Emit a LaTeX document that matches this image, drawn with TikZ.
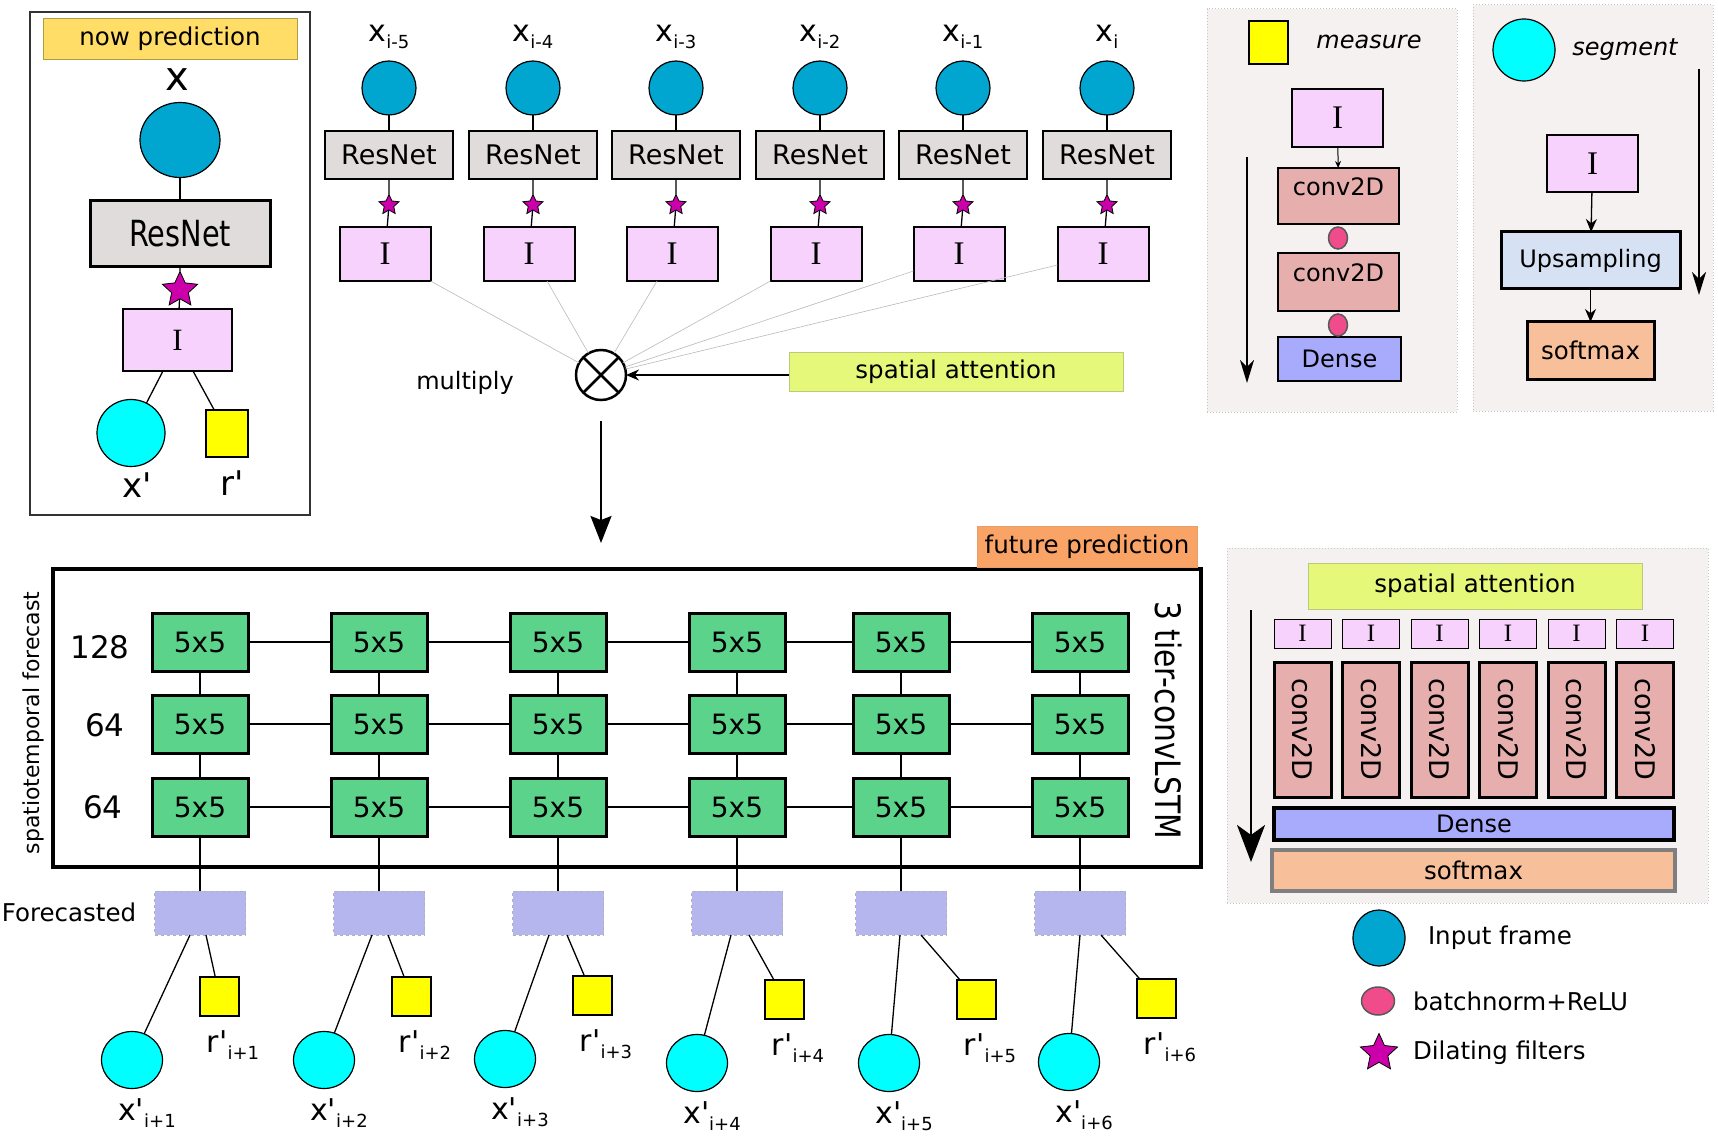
\documentclass[tikz,border=0pt]{standalone}
\usepackage{fontspec}
\setmainfont{DejaVu Sans}[Ligatures=TeXOff]
\newfontfamily\idfont{Liberation Serif}
\usetikzlibrary{shapes.geometric,arrows.meta}

\definecolor{inblue}{RGB}{0,165,208}
\definecolor{segcyan}{RGB}{0,255,255}
\definecolor{measyellow}{RGB}{255,255,0}
\definecolor{starmag}{RGB}{204,0,170}
\definecolor{resgray}{RGB}{224,220,220}
\definecolor{ipink}{RGB}{246,210,252}
\definecolor{nowgold}{RGB}{255,221,102}
\definecolor{attgreen}{RGB}{229,248,122}
\definecolor{convred}{RGB}{230,174,172}
\definecolor{denseblue}{RGB}{168,170,252}
\definecolor{softpeach}{RGB}{248,192,154}
\definecolor{upblue}{RGB}{214,226,243}
\definecolor{futorange}{RGB}{249,163,102}
\definecolor{lstmgreen}{RGB}{92,211,138}
\definecolor{fclav}{RGB}{182,182,238}
\definecolor{panelbg}{RGB}{245,241,240}
\definecolor{bnpink}{RGB}{240,76,140}
\definecolor{softgray}{RGB}{127,127,127}

\newcommand{\fsz}[1]{\fontsize{#1}{#1}\selectfont}
\newcommand{\xsub}[2]{{\fsz{30}#1}\raisebox{-7pt}{\fsz{18}#2}}

\tikzset{
  nosep/.style={inner sep=0pt, outer sep=0pt},
  wire/.style={line width=1.3pt},
  faint/.style={line width=0.6pt, draw=gray!55},
  inframe/.style={ellipse, draw, line width=1.2pt, fill=inblue, minimum width=54pt, minimum height=54pt, nosep},
  segnode/.style={ellipse, draw, line width=1.2pt, fill=segcyan, minimum width=61pt, minimum height=57pt, nosep},
  measnode/.style={rectangle, draw, line width=2pt, fill=measyellow, minimum width=39pt, minimum height=39pt, nosep},
  resbox/.style={rectangle, draw, line width=2.5pt, fill=resgray, minimum width=128pt, minimum height=48pt, font=\fsz{27}, nosep},
  dil/.style={star, star points=5, star point ratio=2.1, draw, line width=0.8pt, fill=starmag, minimum size=21pt, nosep},
  ibox/.style={rectangle, draw, line width=2pt, fill=ipink, minimum width=91pt, minimum height=54pt, font=\idfont\fsz{33}, nosep},
  nowframe/.style={rectangle, draw=black!80, line width=1.5pt, minimum width=280pt, minimum height=503pt, nosep},
  nowtag/.style={rectangle, draw=nowgold!70!black, line width=0.8pt, fill=nowgold, minimum width=254pt, minimum height=41pt, font=\fsz{24.5}, nosep},
  mulnode/.style={circle, draw, line width=2.5pt, fill=white, minimum size=50pt, nosep},
  attbox/.style={rectangle, draw=attgreen!60!gray, line width=0.8pt, fill=attgreen, font=\fsz{24.5}, nosep},
  lstmframe/.style={rectangle, draw, line width=4pt, minimum width=1148pt, minimum height=298pt, nosep},
  futtag/.style={rectangle, draw=futorange!85!gray, line width=0.8pt, fill=futorange, minimum width=220pt, minimum height=41pt, font=\fsz{24.5}, nosep},
  lstmcell/.style={rectangle, draw, line width=3pt, fill=lstmgreen, minimum width=96pt, minimum height=58pt, font=\fsz{28}, nosep},
  fcbox/.style={rectangle, draw=gray!60, dashed, line width=1pt, fill=fclav, minimum width=91pt, minimum height=44pt, nosep},
  panel/.style={rectangle, draw=gray!45, dotted, line width=1pt, fill=panelbg, nosep},
  convbox/.style={rectangle, draw, line width=2.5pt, fill=convred, font=\fsz{24}, nosep},
  convup/.style={text height=17pt, text depth=17pt},
  densebox/.style={rectangle, draw, line width=2.5pt, fill=denseblue, font=\fsz{24}, nosep},
  softbox/.style={rectangle, draw, line width=3pt, fill=softpeach, font=\fsz{24.5}, nosep},
  upbox/.style={rectangle, draw, line width=3pt, fill=upblue, font=\fsz{24}, nosep},
  bnnode/.style={ellipse, draw=black!65, line width=1.5pt, fill=bnpink, minimum width=19pt, minimum height=22pt, nosep},
  txt/.style={font=\fsz{24.5}, nosep},
  bigarrow/.style={line width=2.5pt, -{Stealth[length=23pt, width=14pt, inset=7pt]}},
  hugearrow/.style={line width=2.5pt, -{Stealth[length=37pt, width=28pt, inset=10pt]}},
  downarrow/.style={line width=2pt, -{Stealth[length=27pt, width=21pt, inset=4pt]}},
  midarrow/.style={line width=1.3pt, -{Stealth[length=13pt, width=11pt]}},
  smallarrow/.style={line width=1pt, -{Stealth[length=7pt, width=6pt]}}
}

% one input frame of the sequence
\newcommand{\frameunit}[3]{
  \node[inframe] (c#1) at (#2,88) {};
  \node[font=\fsz{30}, anchor=base, nosep] (xl#1) at (#2,42) {\xsub{x}{#3}};
  \node[resbox] (r#1) at (#2,155) {ResNet};
  \node[dil] (s#1) at (#2,205) {};
  \node[ibox] (i#1) at (#2-4,254) {I};
  \draw[wire] (c#1) -- (r#1);
  \draw[wire] (r#1) -- (s#1) -- (i#1);
}
% one column of the convLSTM
\newcommand{\lstmcol}[2]{
  \node[lstmcell] (ga#1) at (#2,642) {5x5};
  \node[lstmcell] (gb#1) at (#2,724) {5x5};
  \node[lstmcell] (gc#1) at (#2,807) {5x5};
  \draw[wire] (ga#1) -- (gb#1) -- (gc#1);
}
% forecasted output with its segment and measure
\newcommand{\fcunit}[7]{
  \node[fcbox] (f#1) at (#2,913) {};
  \node[segnode] (x#1) at (#3,#4) {};
  \node[measnode] (m#1) at (#3+87.5,#4-64) {};
  \node[font=\fsz{30}, anchor=base, nosep] (rl#1) at (#3+101,#4-8) {\xsub{r'}{#5}};
  \node[font=\fsz{30}, anchor=base, nosep] (xl#1) at (#3+15,#4+60) {\xsub{x'}{#5}};
  \draw[wire] (gc#1) -- (f#1);
  \draw[wire] ([xshift=#6pt]f#1.south) -- (x#1);
  \draw[wire] ([xshift=#7pt]f#1.south) -- (m#1);
}
% one branch of the attention block
\newcommand{\attcol}[2]{
  \node[ibox, minimum width=57pt, minimum height=29pt, line width=1pt, font=\idfont\fsz{25}] (ai#1) at (#2,633.5) {I};
  \node[convbox, rotate=-90, minimum width=135pt, minimum height=57pt, line width=3pt, font=\fsz{27}] (ac#1) at (#2,729.5) {conv2D};
}

\begin{document}
\begin{tikzpicture}[x=1pt,y=-1pt]
\useasboundingbox (0,0) rectangle (1718,1139);

% now prediction
\node[nowframe] (nowpanel) at (170,263.5) {};
\node[nowtag] (nowtitle) at (170,38.5) {now prediction};
\node[font=\fsz{40}, nosep] (xnow) at (177,80) {x};
\node[inframe, minimum width=80pt, minimum height=75pt] (c0) at (180,140) {};
\node[resbox, minimum width=180pt, minimum height=66pt, line width=3pt] (r0) at (180,234) {\fsz{36}\scalebox{0.8}[1]{ResNet}};
\node[dil, minimum size=37pt] (s0) at (180,290) {};
\node[ibox, minimum width=109pt, minimum height=62pt, font=\idfont\fsz{31}] (i0) at (177.5,340) {I};
\node[segnode, minimum width=68pt, minimum height=67pt] (x0) at (131,433) {};
\node[measnode, minimum width=42pt, minimum height=47pt] (m0) at (227,433.5) {};
\node[font=\fsz{34}, nosep] (xl0) at (137,485) {x'};
\node[font=\fsz{34}, nosep] (rl0) at (232,483) {r'};
\draw[wire] (c0) -- (r0);
\draw[wire] (r0) -- (s0) -- (i0);
\draw[wire] ([xshift=-14.5pt]i0.south) -- (x0);
\draw[wire] ([xshift=15.5pt]i0.south) -- (m0);

% input sequence
\frameunit{1}{389}{i-5}
\frameunit{2}{533}{i-4}
\frameunit{3}{676}{i-3}
\frameunit{4}{820}{i-2}
\frameunit{5}{963}{i-1}
\frameunit{6}{1107}{i}

% multiply with attention
\node[font=\fsz{24}, nosep] (multxt) at (465,383) {multiply};
\node[mulnode] (mul) at (601,375) {};
\draw[line width=2.5pt] (mul.45) -- (mul.225) (mul.135) -- (mul.315);
\node[attbox, minimum width=334pt, minimum height=39pt] (att) at (956,371.5) {spatial attention};
\draw[midarrow] (att.west |- mul) -- (mul);
\draw[faint] (i1.south east) -- (mul);
\draw[faint] ([xshift=18pt]i2.south) -- (mul);
\draw[faint] ([xshift=-15pt]i3.south) -- (mul);
\draw[faint] (i4.south west) -- (mul);
\draw[faint] ([yshift=-17pt]i5.west) -- (mul);
\draw[faint] ([yshift=-11pt]i6.west) -- (mul);
\coordinate (lstmtop) at (601,543);
\draw[downarrow] ([yshift=-21pt]mul.south) -- (lstmtop);

% convLSTM
\node[lstmframe] (lstm) at (627,718) {};
\node[futtag] (futtitle) at (1087,546.5) {future prediction};
\node[font=\fsz{22}, rotate=90, nosep] (stlab) at (33,723) {spatiotemporal forecast};
\node[font=\fsz{35}, rotate=-90, nosep] (tierlab) at (1169,720) {\scalebox{0.85}[1]{3 tier-convLSTM}};
\node[font=\fsz{31}, nosep] (n128) at (100,647) {128};
\node[font=\fsz{31}, nosep] (n64a) at (105,725) {64};
\node[font=\fsz{31}, nosep] (n64b) at (103,807) {64};
\lstmcol{1}{200}
\lstmcol{2}{379}
\lstmcol{3}{558}
\lstmcol{4}{737}
\lstmcol{5}{901}
\lstmcol{6}{1080}
\draw[wire] (ga1) -- (ga2) -- (ga3) -- (ga4) -- (ga5) -- (ga6);
\draw[wire] (gb1) -- (gb2) -- (gb3) -- (gb4) -- (gb5) -- (gb6);
\draw[wire] (gc1) -- (gc2) -- (gc3) -- (gc4) -- (gc5) -- (gc6);

% forecasts
\node[txt] (fclab) at (69,912) {Forecasted};
\fcunit{1}{200}{132}{1060}{i+1}{-10}{6}
\fcunit{2}{379}{324}{1060}{i+2}{-7}{9}
\fcunit{3}{558}{505}{1059}{i+3}{-9}{9}
\fcunit{4}{737}{697}{1063}{i+4}{-6}{12}
\fcunit{5}{901}{889}{1063}{i+5}{-1}{20}
\fcunit{6}{1080}{1069}{1062}{i+6}{0}{21}

% measure head
\node[panel, minimum width=250pt, minimum height=403pt] (measpanel) at (1332,210.5) {};
\node[measnode, minimum height=43pt] (mkey) at (1268.5,42.5) {};
\node[font=\fsz{24}\itshape, nosep] (mtxt) at (1369,42) {measure};
\node[ibox, minimum height=58pt, line width=1.5pt] (mI) at (1337.5,118) {I};
\node[convbox, minimum width=121pt, minimum height=56pt, convup] (mc1) at (1338.5,196) {conv2D};
\node[convbox, minimum width=121pt, minimum height=58pt, convup] (mc2) at (1338.5,282) {conv2D};
\node[densebox, minimum width=123pt, minimum height=44pt] (mdense) at (1339.5,359) {Dense};
\node[bnnode] (bn1) at (1338,238) {};
\node[bnnode] (bn2) at (1338,325) {};
\draw[smallarrow] (mI) -- (mc1);
\coordinate (mup) at (1247,157);
\coordinate (mdown) at (1247,383);
\draw[bigarrow] (mup) -- (mdown);

% segment head
\node[panel, minimum width=240pt, minimum height=406pt] (segpanel) at (1593,208) {};
\node[segnode, minimum width=62pt, minimum height=62pt] (skey) at (1524,50) {};
\node[font=\fsz{24}\itshape, nosep] (stxt) at (1625,50) {segment};
\node[ibox, minimum height=57pt, line width=1.5pt] (sI) at (1592.5,163.5) {I};
\node[upbox, minimum width=179pt, minimum height=57pt] (sUp) at (1590.5,260.5) {Upsampling};
\node[softbox, minimum width=127pt, minimum height=57pt] (sSoft) at (1590.5,350.5) {softmax};
\draw[midarrow] (sI) -- (sUp);
\draw[midarrow] (sUp) -- (sSoft);
\coordinate (sgup) at (1699,69);
\coordinate (sgdown) at (1699,295);
\draw[bigarrow] (sgup) -- (sgdown);

% spatial attention block
\node[panel, minimum width=481pt, minimum height=355pt] (attpanel) at (1467.5,725.5) {};
\node[attbox, minimum width=334pt, minimum height=46pt] (att2) at (1475,586) {spatial attention};
\attcol{1}{1302.5}
\attcol{2}{1371}
\attcol{3}{1439.5}
\attcol{4}{1508}
\attcol{5}{1576.5}
\attcol{6}{1645}
\node[densebox, minimum width=400pt, minimum height=32pt, line width=3.5pt] (dense2) at (1474,824) {Dense};
\node[softbox, minimum width=403pt, minimum height=41pt, line width=3.5pt, draw=softgray] (soft2) at (1473.5,870.5) {softmax};
\coordinate (attup) at (1251,610);
\coordinate (attdown) at (1251,862);
\draw[hugearrow] (attup) -- (attdown);

% legend
\node[inframe, minimum width=52pt, minimum height=56pt] (lg1) at (1379,938) {};
\node[txt, anchor=west] (lt1) at (1428,938) {Input frame};
\node[bnnode, minimum width=33pt, minimum height=28pt] (lg2) at (1378,1001) {};
\node[txt, anchor=west] (lt2) at (1413,1001) {batchnorm+ReLU};
\node[dil, minimum size=39pt] (lg3) at (1379,1053) {};
\node[txt, anchor=west] (lt3) at (1413,1053) {Dilating filters};
\end{tikzpicture}
\end{document}
